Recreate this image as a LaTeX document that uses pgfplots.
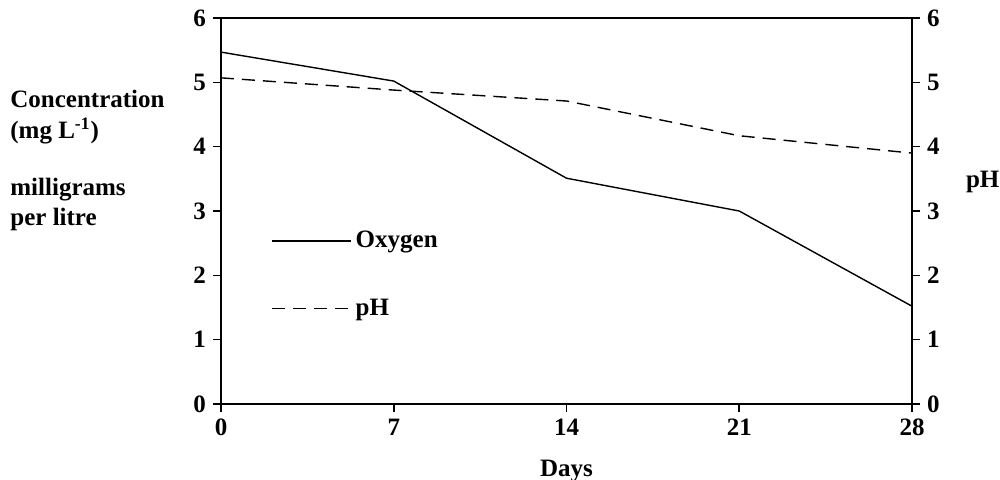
\documentclass[border=0pt]{standalone}
\usepackage{pgfplots}
\pgfplotsset{compat=1.18}
\usepackage{fontspec}
\setmainfont{Liberation Serif}
\begin{document}
\begin{tikzpicture}
\useasboundingbox (0,0) rectangle (500pt,239.5pt);
\pgfplotsset{
  every axis/.append style={
    scale only axis, width=345.5pt, height=193pt,
    at={(110.5pt,37.5pt)}, anchor=south west,
    xmin=0, xmax=28, ymin=0, ymax=6,
    ytick={0,...,6},
    font=\fontsize{12.5}{14}\selectfont\bfseries,
    /pgf/number format/assume math mode=true,
    tick style={black, line width=0.8pt},
    major tick length=4pt,
    axis line style={line width=0.8pt},
    tick align=outside,
  },
}
\begin{axis}[
    axis y line*=left,
    xtick={0,7,14,21,28},
    xtick pos=bottom,
    xlabel={Days},
    xlabel style={at={(axis description cs:0.5,0)}, anchor=base, yshift=-36pt},
    legend style={draw=none, fill=none, at={(axis cs:1.78,2.815)}, anchor=north west,
      row sep=20pt, font=\fontsize{12.5}{14}\selectfont\bfseries,
      /tikz/every even column/.append style={column sep=1pt}},
    legend cell align=left,
    legend image code/.code={\draw[#1] (0pt,0pt) -- (39.5pt,0pt);},
]
\addplot[black, line width=0.7pt] coordinates {(0,5.47) (7,5.02) (14,3.51) (21,3.00) (28,1.52)};
\addlegendentry{Oxygen}
\addplot[black, line width=0.7pt, dash pattern=on 6.5pt off 4pt] coordinates {(0,5.07) (7,4.88) (14,4.71) (21,4.17) (28,3.90)};
\addlegendentry{pH}
\draw[line width=0.8pt] (rel axis cs:0,1) -- (rel axis cs:1,1);
\end{axis}
\begin{axis}[
    axis y line*=right,
    axis x line=none,
    ylabel={pH},
    ylabel style={rotate=-90, at={(axis description cs:1.068,0.562)}, anchor=base west},
]
\addplot[draw=none] coordinates {(0,0) (28,6)};
\end{axis}
\begin{scope}[every node/.style={anchor=base west, inner sep=0pt, font=\fontsize{12.5}{14}\selectfont\bfseries}]
\node at (5pt,186pt) {Concentration};
\node at (5pt,170.5pt) {(mg L\textsuperscript{-1})};
\node at (5pt,142pt) {milligrams};
\node at (5pt,127pt) {per litre};
\end{scope}
\end{tikzpicture}
\end{document}
